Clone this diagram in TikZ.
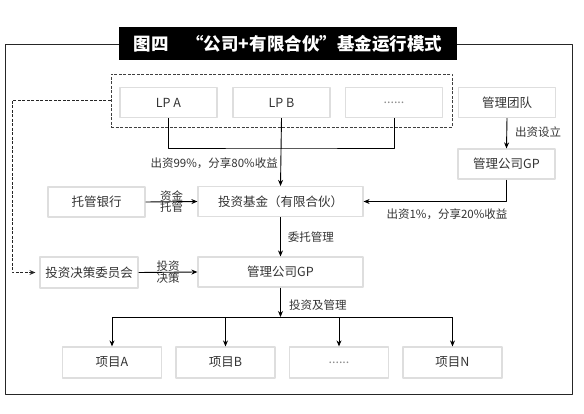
\documentclass[tikz,border=0pt]{standalone}
\usepackage{fontspec}
\setmainfont{Noto Sans CJK SC}
\usetikzlibrary{arrows.meta}

\begin{document}
\begin{tikzpicture}[x=1pt, y=-1pt, line join=round, >={Stealth[length=6pt,width=5pt]},
	box/.style={draw=black!13, line width=1.2pt, fill=white, text=black!80, font=\fontsize{12.5}{15}\selectfont, minimum width=97pt, minimum height=30pt, inner sep=0pt},
	lbl/.style={text=black!80, font=\fontsize{11.5}{13}\selectfont, inner sep=1pt},
	arr/.style={->, line width=0.9pt}]
	\useasboundingbox (0,0) rectangle (584,414);
	% Khung ngoài và tiêu đề
	\draw[line width=1pt, black!85] (5,45) rectangle (572,394);
	\node[fill=black, text=white, font=\fontsize{17.5}{20}\selectfont\bfseries, minimum width=338pt, minimum height=33pt, inner sep=0pt] (title) at (288,43.5) {图四\quad “公司+有限合伙”基金运行模式};
	
	% Hàng LP
	\node[draw=black!75, dash pattern=on 3pt off 1.5pt, line width=0.9pt, minimum width=341pt, minimum height=53pt, inner sep=0pt] (lpgroup) at (281.5,100.5) {};
	\node[box] (lpa)    at (168.5,102.5) {LP A};
	\node[box] (lpb)    at (281.5,102.5) {LP B};
	\node[box] (lpdots) at (394,102.5)   {\textcolor{black!45}{......}};
	\node[box] (team)   at (507,102.5)   {管理团队};
	
	% Hàng giữa
	\node[box] (gp2) at (506.5,164) {管理公司GP};
	\node[box, minimum width=165pt] (fund) at (280.5,201.5) {投资基金（有限合伙）};
	\node[box] (bank) at (96.5,202) {托管银行};
	\node[box, minimum width=165pt] (gp) at (280.5,272) {管理公司GP};
	\node[box, minimum width=98pt, minimum height=31pt] (committee) at (89,272.5) {投资决策委员会};
	
	% Hàng dự án
	\node[box, minimum width=99pt, minimum height=31pt] (pa)    at (112,362.5)   {项目A};
	\node[box, minimum width=99pt, minimum height=31pt] (pb)    at (225.5,362.5) {项目B};
	\node[box, minimum width=99pt, minimum height=31pt] (pdots) at (339,362.5)   {\textcolor{black!45}{......}};
	\node[box, minimum width=99pt, minimum height=31pt] (pn)    at (452.5,362.5) {项目N};
	
	% LP -> quỹ
	\coordinate (lpbus) at (281.5,148);
	\draw[line width=0.9pt] (lpa.south) |- (lpbus) -| (lpdots.south);
	\draw[arr] (lpb.south) -- (fund.north);
	\node[lbl, anchor=east] (lbl99) at (279,163) {出资99\%，分享80\%收益};
	
	% GP
	\draw[arr] (team.south) -- (gp2.north);
	\node[lbl, anchor=west] (lblset) at (514,132) {出资设立};
	\draw[arr] (gp2.south) |- (fund.east);
	\node[lbl] (lbl1) at (447,214) {出资1\%，分享20\%收益};
	
	% Ngân hàng, ủy ban
	\draw[arr] (bank.east) -- (fund.west)
		node[lbl, midway, above, inner sep=0pt] (lblfund) {资金}
		node[lbl, midway, below, inner sep=0pt] (lblcust) {托管};
	\draw[arr] (fund.south) -- (gp.north) node[lbl, midway, right=6pt] (lblmanage) {委托管理};
	\draw[arr] (committee.east) -- (gp.west)
		node[lbl, midway, above, inner sep=0pt] (lblinv) {投资}
		node[lbl, midway, below, inner sep=0pt] (lbldec) {决策};
	
	% GP -> dự án
	\coordinate (projbus) at (280.5,317);
	\draw[arr] (gp.south) -- (projbus);
	\node[lbl, anchor=west] (lblinvest) at (288,305) {投资及管理};
	\draw[line width=0.9pt] (pa.north |- projbus) -- (pn.north |- projbus);
	\foreach \p in {pa,pb,pdots,pn}
		\draw[arr] (\p.north |- projbus) -- (\p.north);
	
	% Đường nét đứt
	\coordinate (dashcorner) at (12,102);
	\draw[arr, dash pattern=on 3pt off 1.5pt, black!85, shorten >=4pt] (lpgroup.west) -- (lpgroup.west -| dashcorner) |- (committee.west);
\end{tikzpicture}
\end{document}
